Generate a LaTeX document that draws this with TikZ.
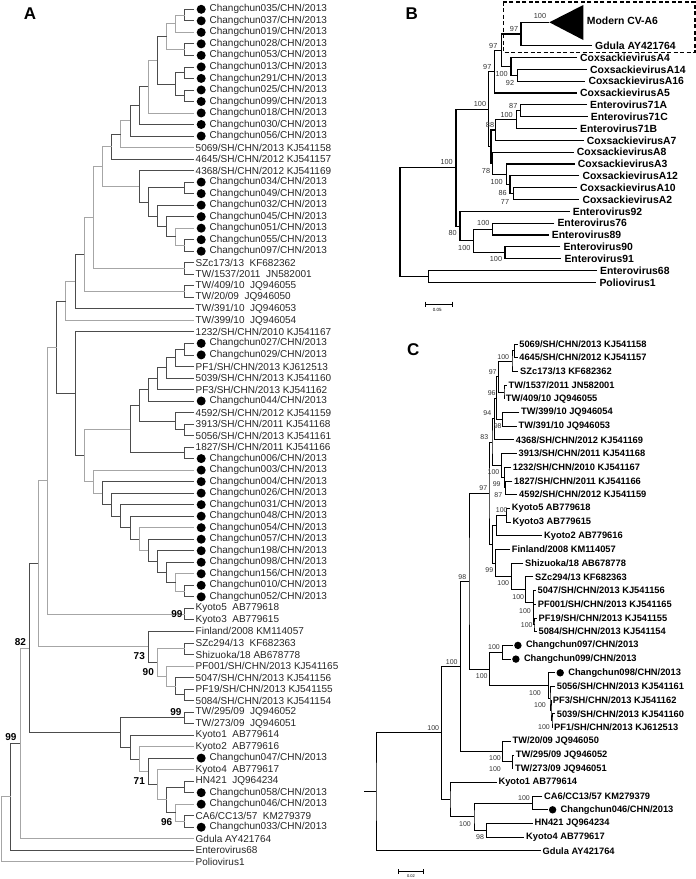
\documentclass[tikz,border=0pt]{standalone}
\usepackage{fontspec}
\setmainfont{Liberation Sans}
\usetikzlibrary{calc}

\tikzset{
  ramoA/.style={draw=black!70, line width=0.75pt},
  ramoL/.style={draw=black!35, line width=0.75pt},
  ramoB/.style={draw=black, line width=1.1pt},
  ramoC/.style={draw=black, line width=0.9pt},
  fogliaA/.style={anchor=west, inner sep=0pt, text=black!85, font=\fontsize{10}{12}\selectfont},
  fogliaB/.style={anchor=west, inner sep=0pt, font=\fontsize{10.4}{12}\selectfont\bfseries},
  fogliaC/.style={anchor=west, inner sep=0pt, font=\fontsize{9.3}{11}\selectfont\bfseries},
  puntoA/.style={circle, fill=black, inner sep=0pt, minimum size=9pt, anchor=west},
  puntoC/.style={circle, fill=black, inner sep=0pt, minimum size=7.4pt, anchor=west},
  bootA/.style={inner sep=0pt, font=\fontsize{10}{12}\selectfont\bfseries},
  boot/.style={inner sep=0pt, text=black!80, font=\fontsize{7}{8}\selectfont},
  pannello/.style={inner sep=0pt, font=\fontsize{17}{20}\selectfont\bfseries},
  scala/.style={draw=black, line width=0.6pt},
  scalatesto/.style={inner sep=0pt, font=\fontsize{4.5}{5}\selectfont},
}

% nodo interno: [stile]{nome}{x}{figlio alto}{figlio basso}
\newcommand{\nodo}[5][ramoC]{%
  \path let \p1=(#4), \p2=(#5) in coordinate (#2) at ({(#3)*1pt},{(\y1+\y2)/2});
  \draw[#1] (#4) -| (#2) |- (#5);
}
% cladogramma A: x dal livello
\newcommand{\nodoA}[5][ramoA]{\nodo[#1]{#2}{194-9.16*#3}{#4}{#5}}

\begin{document}
\begin{tikzpicture}[x=1pt,y=-1pt]
    \useasboundingbox (0,0) rectangle (696,879);

    % ===== Pannello A =====
    \node[pannello] (lA) at (30,13.5) {A};

    % Foglie (1 = campione Changchun col punto)
    \foreach \dd/\etich [count=\idx] in {1/035, 1/037, 1/019, 1/028, 1/053, 1/013, 1/291, 1/025, 1/099, 1/018, 1/030, 1/056,
      0/{5069/SH/CHN/2013 KJ541158}, 0/{4645/SH/CHN/2012 KJ541157}, 0/{4368/SH/CHN/2012 KJ541169},
      1/034, 1/049, 1/032, 1/045, 1/051, 1/055, 1/097,
      0/{SZc173/13~~KF682362}, 0/{TW/1537/2011~~JN582001}, 0/{TW/409/10~~JQ946055}, 0/{TW/20/09~~JQ946050},
      0/{TW/391/10~~JQ946053}, 0/{TW/399/10~~JQ946054},
      0/{1232/SH/CHN/2010 KJ541167}, 1/027, 1/029, 0/{PF1/SH/CHN/2013 KJ612513}, 0/{5039/SH/CHN/2013 KJ541160},
      0/{PF3/SH/CHN/2013 KJ541162}, 1/044,
      0/{4592/SH/CHN/2012 KJ541159}, 0/{3913/SH/CHN/2011 KJ541168}, 0/{5056/SH/CHN/2013 KJ541161}, 0/{1827/SH/CHN/2011 KJ541166},
      1/006, 1/003, 1/004, 1/026, 1/031, 1/048, 1/054, 1/057, 1/198, 1/098, 1/156, 1/010, 1/052,
      0/{Kyoto5~~AB779618}, 0/{Kyoto3~~AB779615}, 0/{Finland/2008 KM114057}, 0/{SZc294/13~~KF682363},
      0/{Shizuoka/18 AB678778}, 0/{PF001/SH/CHN/2013 KJ541165}, 0/{5047/SH/CHN/2013 KJ541156},
      0/{PF19/SH/CHN/2013 KJ541155}, 0/{5084/SH/CHN/2013 KJ541154},
      0/{TW/295/09~~JQ946052}, 0/{TW/273/09~~JQ946051}, 0/{Kyoto1~~AB779614}, 0/{Kyoto2~~AB779616}, 1/047,
      0/{Kyoto4~~AB779617}, 0/{HN421~~JQ964234}, 1/058, 1/046, 0/{CA6/CC13/57~~KM279379}, 1/033,
      0/{Gdula AY421764}, 0/{Enterovirus68}, 0/{Poliovirus1}}{
      \coordinate (a\idx) at (194,{9.3+(\idx-1)*11.52});
      \ifnum\dd=1\relax
        \node[puntoA] (pa\idx) at ($(a\idx)+(2.5,0)$) {};
        \node[fogliaA] (ta\idx) at ($(pa\idx.east)+(3.5,0)$) {Changchun\etich/CHN/2013};
      \else
        \node[fogliaA] (ta\idx) at ($(a\idx)+(1.5,0)$) {\etich};
      \fi
    }

    % Rami
    \nodoA{p1}{1}{a1}{a2}
    \nodoA[ramoL]{p2}{2}{p1}{a3}
    \nodoA{p3}{1}{a4}{a5}
    \nodoA[ramoL]{p4}{3}{p2}{p3}
    \nodoA{p5}{1}{a6}{a7}
    \nodoA{p6}{1}{a8}{a9}
    \nodoA{p7}{2}{p5}{p6}
    \nodoA{p8}{4}{p4}{p7}
    \nodoA[ramoL]{p9}{5}{p8}{a10}
    \nodoA{p10}{6}{p9}{a11}
    \nodoA{p11}{7}{p10}{a12}
    \nodoA[ramoL]{p12}{8}{p11}{a13}
    \nodoA{p13}{9}{p12}{a14}
    \nodoA{p14}{1}{a21}{a22}
    \nodoA[ramoL]{p15}{2}{a20}{p14}
    \nodoA{p16}{3}{a19}{p15}
    \nodoA{p17}{4}{a18}{p16}
    \nodoA{p18}{1}{a16}{a17}
    \nodoA{p19}{5}{p18}{p17}
    \nodoA{p20}{6}{a15}{p19}
    \nodoA[ramoL]{p21}{10}{p13}{p20}
    \nodoA{p22}{1}{a23}{a24}
    \nodoA[ramoL]{p23}{11}{p21}{p22}
    \nodoA{p24}{1}{a25}{a26}
    \nodoA[ramoL]{p25}{12}{p23}{p24}
    \nodoA{p26}{13}{p25}{a27}
    \nodoA[ramoL]{p27}{14}{p26}{a28}
    \nodoA{p28}{1}{a30}{a31}
    \nodoA{p29}{2}{p28}{a32}
    \nodoA{p30}{3}{p29}{a33}
    \nodoA{p31}{4}{p30}{a34}
    \nodoA{p32}{5}{p31}{a35}
    \nodoA{p33}{1}{a37}{a38}
    \nodoA{p34}{2}{a36}{p33}
    \nodoA{p35}{6}{p32}{p34}
    \nodoA{p36}{1}{a39}{a40}
    \nodoA{p37}{7}{p35}{p36}
    \nodoA{p38}{1}{a51}{a52}
    \nodoA[ramoL]{p39}{2}{a50}{p38}
    \nodoA{p40}{3}{a49}{p39}
    \nodoA{p41}{4}{a48}{p40}
    \nodoA{p42}{5}{a47}{p41}
    \nodoA[ramoL]{p43}{6}{a46}{p42}
    \nodoA{p44}{7}{a45}{p43}
    \nodoA{p45}{8}{a44}{p44}
    \nodoA{p46}{9}{a43}{p45}
    \nodoA{p47}{10}{a42}{p46}
    \nodoA[ramoL]{p48}{11}{a41}{p47}
    \nodoA[ramoL]{p49}{12}{p37}{p48}
    \nodoA{p50}{13}{a29}{p49}
    \nodoA{p51}{15}{p27}{p50}
    \nodoA{p52}{1}{a53}{a54}
    \nodoA[ramoL]{p53}{16}{p51}{p52}
    \nodoA{p54}{1}{a60}{a61}
    \nodoA{p55}{2}{a59}{p54}
    \nodoA[ramoL]{p56}{3}{a58}{p55}
    \nodoA{p57}{1}{a56}{a57}
    \nodoA[ramoL]{p58}{4}{p57}{p56}
    \nodoA{p59}{5}{a55}{p58}
    \nodoA[ramoL]{p60}{17}{p53}{p59}
    \nodoA{p61}{1}{a62}{a63}
    \nodoA{p62}{1}{a68}{a69}
    \nodoA{p63}{1}{a71}{a72}
    \nodoA[ramoL]{p64}{2}{a70}{p63}
    \nodoA{p65}{3}{p62}{p64}
    \nodoA[ramoL]{p66}{4}{a67}{p65}
    \nodoA{p67}{5}{a66}{p66}
    \nodoA[ramoL]{p68}{6}{a65}{p67}
    \nodoA{p69}{7}{a64}{p68}
    \nodoA{p70}{8}{p61}{p69}
    \nodoA{p71}{18}{p60}{p70}
    \nodoA[ramoL]{p72}{19}{p71}{a73}
    \nodoA{p73}{20}{p72}{a74}
    \nodoA[ramoL]{p74}{21}{p73}{a75}

    % Bootstrap A
    \foreach \x/\y/\v [count=\idx] in {177/614.5/99, 139.3/656/73, 148.3/671.7/90, 176/712.3/99,
      139.3/780.7/71, 166.7/822.3/96, 20.5/642.3/82, 11/737.3/99}
      \node[bootA] (ba\idx) at (\x,\y) {\v};

    % ===== Pannello B =====
    \node[pannello] (lB) at (411.7,13.3) {B};
    \draw[dashed, dash pattern=on 4pt off 2.5pt, line width=1.6pt] (503.3,1.7) rectangle (695,52.3);

    % Clade compresso
    \coordinate (bMod) at (549.3,22.3);
    \coordinate (bT1) at (583.3,5);
    \coordinate (bT2) at (583.3,40);
    \fill (bMod) -- (bT1) -- (bT2) -- cycle;
    \node[fogliaB] (tbMod) at (586.7,20.7) {Modern CV-A6};

    \foreach \nome/\x/\riga/\etich in {Gd/592/0/{Gdula AY421764}, A4/577/1/{CoxsackievirusA4},
      A14/587/2/{CoxsackievirusA14}, A16/585.3/3/{CoxsackievirusA16}, A5/577/4/{CoxsackievirusA5},
      EA/587/5/{Enterovirus71A}, EC/587.7/6/{Enterovirus71C}, EB/577/7/{Enterovirus71B},
      A7/583.7/8/{CoxsackievirusA7}, A8/573.7/9/{CoxsackievirusA8}, A3/574.7/10/{CoxsackievirusA3},
      A12/579.3/11/{CoxsackievirusA12}, A10/577/12/{CoxsackievirusA10}, A2/579.3/13/{CoxsackievirusA2},
      E92/569.7/14/{Enterovirus92}, E76/554.3/15/{Enterovirus76}, E89/548.7/16/{Enterovirus89},
      E90/560.3/17/{Enterovirus90}, E91/561.3/18/{Enterovirus91}, E68/597/19/{Enterovirus68},
      P1/596.3/20/{Poliovirus1}}{
      \coordinate (b\nome) at (\x,{45.7+\riga*11.83});
      \node[fogliaB] (tb\nome) at ($(b\nome)+(3,0)$) {\etich};
    }

    \nodo[ramoB]{bn1}{521}{bMod}{bGd}
    \nodo[ramoB]{bn2}{517.7}{bA14}{bA16}
    \nodo[ramoB]{bn3}{511}{bA4}{bn2}
    \nodo[ramoB]{bn4}{501.7}{bn1}{bn3}
    \nodo[ramoB]{bn5}{494.3}{bn4}{bA5}
    \nodo[ramoB]{bn6}{520.7}{bEA}{bEC}
    \nodo[ramoB]{bn7}{516.7}{bn6}{bEB}
    \nodo[ramoB]{bn8}{495.7}{bn7}{bA7}
    \nodo[ramoB]{bn9}{513.3}{bA10}{bA2}
    \nodo[ramoB]{bn10}{510}{bA12}{bn9}
    \nodo[ramoB]{bn11}{506.7}{bA3}{bn10}
    \nodo[ramoB]{bn12}{492.7}{bA8}{bn11}
    \nodo[ramoB]{bn13}{491}{bn8}{bn12}
    \nodo[ramoB]{bn14}{488.3}{bn5}{bn13}
    \nodo[ramoB]{bn15}{492.7}{bE76}{bE89}
    \nodo[ramoB]{bn16}{505}{bE90}{bE91}
    \nodo[ramoB]{bn17}{473.3}{bn15}{bn16}
    \nodo[ramoB]{bn18}{460}{bE92}{bn17}
    \nodo[ramoB]{bn19}{456}{bn14}{bn18}
    \nodo[ramoB]{bn20}{428.3}{bE68}{bP1}
    \nodo[ramoB]{bn21}{400}{bn19}{bn20}

    % Bootstrap B
    \foreach \x/\y/\v [count=\idx] in {540/15.7/100, 514/29/97, 493.3/45.7/97, 487.3/66.7/97, 501.7/74/100,
      510/83.3/92, 480/104/100, 513.3/105.7/87, 506.7/115/100, 490/125/88, 446.7/162.3/100, 486/170.7/78,
      496.7/182.3/100, 502.7/192.7/86, 505/201.7/77, 483.3/223.3/100, 452.7/232.7/80, 464.3/248.3/100,
      496/259.3/100}
      \node[boot, font=\fontsize{7.3}{8}\selectfont] (bb\idx) at (\x,\y) {\v};

    % Scala B
    \coordinate (sB1) at (425,304);
    \coordinate (sB2) at (452.3,304);
    \draw[scala] (sB1) -- (sB2);
    \draw[scala] ($(sB1)+(0,-2.5)$) -- ($(sB1)+(0,2.5)$);
    \draw[scala] ($(sB2)+(0,-2.5)$) -- ($(sB2)+(0,2.5)$);
    \node[scalatesto] (tsB) at (437.3,310) {0.05};

    % ===== Pannello C =====
    \node[pannello] (lC) at (413.3,349.3) {C};

    \foreach \x/\dd/\etich [count=\idx] in {517.5/0/{5069/SH/CHN/2013 KJ541158}, 517.5/0/{4645/SH/CHN/2012 KJ541157},
      518.3/0/{SZc173/13 KF682362}, 506.7/0/{TW/1537/2011 JN582001}, 504/0/{TW/409/10 JQ946055},
      519.3/0/{TW/399/10 JQ946054}, 516.7/0/{TW/391/10 JQ946053}, 514/0/{4368/SH/CHN/2012 KJ541169},
      516.7/0/{3913/SH/CHN/2011 KJ541168}, 511/0/{1232/SH/CHN/2010 KJ541167}, 512.3/0/{1827/SH/CHN/2011 KJ541166},
      517.3/0/{4592/SH/CHN/2012 KJ541159}, 510/0/{Kyoto5 AB779618}, 510.7/0/{Kyoto3 AB779615},
      542.3/0/{Kyoto2 AB779616}, 510/0/{Finland/2008 KM114057}, 523.3/0/{Shizuoka/18 AB678778},
      533.3/0/{SZc294/13 KF682363}, 535.7/0/{5047/SH/CHN/2013 KJ541156}, 536/0/{PF001/SH/CHN/2013 KJ541165},
      536.7/0/{PF19/SH/CHN/2013 KJ541155}, 536.7/0/{5084/SH/CHN/2013 KJ541154},
      513/1/{Changchun097/CHN/2013}, 511/1/{Changchun099/CHN/2013}, 555.3/1/{Changchun098/CHN/2013},
      555/0/{5056/SH/CHN/2013 KJ541161}, 551/0/{PF3/SH/CHN/2013 KJ541162}, 555/0/{5039/SH/CHN/2013 KJ541160},
      552.3/0/{PF1/SH/CHN/2013 KJ612513}, 510.7/0/{TW/20/09 JQ946050}, 514/0/{TW/295/09 JQ946052},
      513.3/0/{TW/273/09 JQ946051}, 496.7/0/{Kyoto1 AB779614}, 542.3/0/{CA6/CC13/57 KM279379},
      547.7/1/{Changchun046/CHN/2013}, 532.7/0/{HN421 JQ964234}, 524.3/0/{Kyoto4 AB779617},
      540.7/0/{Gdula AY421764}}{
      \coordinate (c\idx) at (\x,{344+(\idx-1)*13.7});
      \ifnum\dd=1\relax
        \node[puntoC] (pc\idx) at ($(c\idx)+(1,0)$) {};
        \node[fogliaC] (tc\idx) at ($(pc\idx.east)+(4,0)$) {\etich};
      \else
        \node[fogliaC] (tc\idx) at ($(c\idx)+(1.7,0)$) {\etich};
      \fi
    }

    \nodo{cn1}{514.5}{c1}{c2}
    \nodo{cn2}{512}{cn1}{c3}
    \nodo{cn3}{504}{c4}{c5}
    \nodo{cn4}{498.3}{cn2}{cn3}
    \nodo{cn5}{502.7}{c6}{c7}
    \nodo{cn6}{496.5}{cn4}{cn5}
    \nodo{cn7}{494.3}{cn6}{c8}
    \nodo{cn8a}{505.5}{c11}{c12}
    \nodo{cn8}{504.5}{c10}{cn8a}
    \nodo{cn9}{501.7}{c9}{cn8}
    \nodo{cn10}{492}{cn7}{cn9}
    \nodo{cn11}{506.7}{c13}{c14}
    \nodo{cn12}{496.7}{cn11}{c15}
    \nodo{cn13}{534}{c21}{c22}
    \nodo{cn14}{533.6}{c20}{cn13}
    \nodo{cn15}{533.3}{c19}{cn14}
    \nodo{cn16}{525.7}{c18}{cn15}
    \nodo{cn17}{511.7}{c17}{cn16}
    \nodo{cn18}{495.7}{c16}{cn17}
    \nodo{cn19}{492.5}{cn12}{cn18}
    \nodo{cn20}{489}{cn10}{cn19}
    \nodo{cn21}{502.7}{c23}{c24}
    \nodo{cn22}{552}{c28}{c29}
    \nodo{cn23}{551}{c27}{cn22}
    \nodo{cn24}{550}{c26}{cn23}
    \nodo{cn25}{548.3}{c25}{cn24}
    \nodo{cn26}{489.3}{cn21}{cn25}
    \nodo{cn27}{469}{cn20}{cn26}
    \nodo{cn28}{512.3}{c31}{c32}
    \nodo{cn29}{502.7}{c30}{cn28}
    \nodo{cn30}{460.7}{cn27}{cn29}
    \nodo{cn31}{532.7}{c34}{c35}
    \nodo{cn32}{486.7}{c36}{c37}
    \nodo{cn33}{474}{cn31}{cn32}
    \nodo{cn34}{450}{c33}{cn33}
    \nodo{cn35}{441.7}{cn30}{cn34}
    \nodo{cn36}{376}{cn35}{c38}
    \coordinate (cR) at ($(cn36)+(-12,0)$);
    \draw[ramoC] (cR) -- (cn36);

    % Bootstrap C
    \foreach \x/\y/\v [count=\idx] in {503.3/356.7/100, 492.7/371.7/97, 491.7/393.3/96, 487.3/413.3/94,
      497.7/425.7/98, 484.3/437.3/83, 493.5/472.3/100, 496.7/484.3/99, 498.3/495/87, 483.3/488.3/97,
      501.7/510/100, 489.3/570/99, 503.3/583.3/100, 518.3/596.7/100, 525/611/100, 526.7/625/100,
      462.3/576.7/98, 494/647.3/100, 481.7/675.7/100, 535/692.7/100, 540/705/100, 544/727.3/100,
      451.7/661.7/100, 433.3/728.3/100, 495/758.3/100, 495/769/100, 524/798.3/100, 465/824/100, 480/837.3/98}
      \node[boot] (bc\idx) at (\x,\y) {\v};

    % Scala C
    \coordinate (sC1) at (398.3,871.7);
    \coordinate (sC2) at (423.3,871.7);
    \draw[scala] (sC1) -- (sC2);
    \draw[scala] ($(sC1)+(0,-2.5)$) -- ($(sC1)+(0,2.5)$);
    \draw[scala] ($(sC2)+(0,-2.5)$) -- ($(sC2)+(0,2.5)$);
    \node[scalatesto, font=\fontsize{4}{5}\selectfont] (tsC) at (411,876.5) {0.02};

\end{tikzpicture}
\end{document}
